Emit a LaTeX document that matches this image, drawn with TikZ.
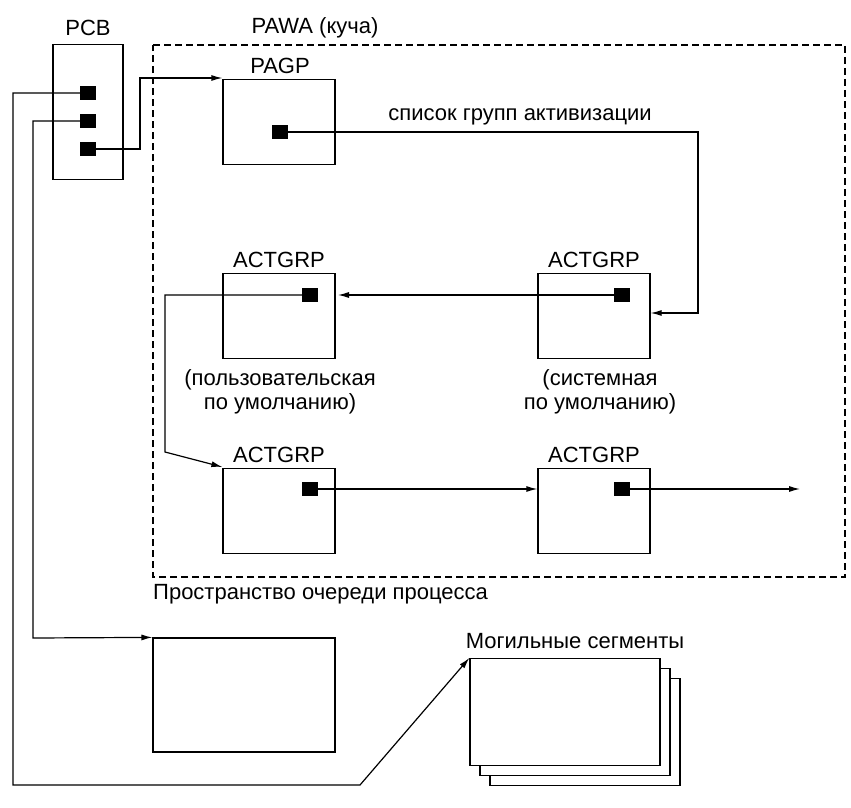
\documentclass[tikz,border=0pt]{standalone}
\usepackage{fontspec}
\setmainfont{Liberation Sans}
\usetikzlibrary{positioning,arrows.meta}
\tikzset{
    box/.style={draw, line width=1.2pt, fill=white, inner sep=0pt},
    ptr/.style={fill=black, minimum width=16pt, minimum height=14pt, inner sep=0pt},
    lnk/.style={line width=1.2pt, -{Latex[length=11pt,width=6pt]}},
    lbl/.style={font=\fontsize{22}{24}\selectfont, align=center, inner sep=0pt}
}
\begin{document}
\begin{tikzpicture}[x=1pt, y=-1pt]
\useasboundingbox (0,0) rectangle (851,808);

% Heap frame
\draw[line width=1.2pt, dash pattern=on 7pt off 4pt]
    (153,45) -- (845,45) -- (845,577) -- (153,577) -- cycle;
\node[lbl] at (315,28) {PAWA (куча)};
\node[lbl, anchor=west] at (153,594) {Пространство очереди процесса};

% PCB
\node[box, minimum width=70pt, minimum height=135pt] (pcb) at (88,112) {};
\node[lbl] at (88,28) {PCB};
\node[ptr] (p1) at (88,93) {};
\node[ptr] (p2) at (88,121) {};
\node[ptr] (p3) at (88,149) {};

% PAGP
\node[box, minimum width=112pt, minimum height=85pt] (pagp) at (279,122) {};
\node[lbl] at (280,66) {PAGP};
\node[ptr] (pg) at (280,132) {};
\node[lbl] at (520,117) {список групп активизации};

% Activation groups
\node[box, minimum width=112pt, minimum height=85pt] (ga) at (279,316) {};
\node[box, minimum width=112pt, minimum height=85pt] (gb) at (594,316) {};
\node[box, minimum width=112pt, minimum height=85pt] (gc) at (279,511) {};
\node[box, minimum width=112pt, minimum height=85pt] (gd) at (594,511) {};
\foreach \g in {ga,gb,gc,gd}
    \node[lbl] at ([yshift=13pt]\g.north) {ACTGRP};
\node[ptr] (sa) at (310,295) {};
\node[ptr] (sb) at (622,295) {};
\node[ptr] (sc) at (310,489) {};
\node[ptr] (sd) at (622,489) {};
\node[lbl] at (280,392) {(пользовательская\\по умолчанию)};
\node[lbl] at (600,392) {(системная\\по умолчанию)};

% Process space and tomb segments
\node[box, minimum width=182pt, minimum height=114pt] (ps) at (244,695) {};
\node[box, minimum width=190pt, minimum height=107pt] (t3) at (585,732) {};
\node[box, minimum width=190pt, minimum height=107pt] (t2) at (575,722) {};
\node[box, minimum width=190pt, minimum height=107pt] (t1) at (565,712) {};
\node[lbl] at (575,641) {Могильные сегменты};
\coordinate (end) at (800,489);

% Links
\draw[lnk] (p3.center) -- (140,149) -- (140,78) -- (pagp.north west |- 0,78);
\draw[lnk] (pg.center) -- (698,132) -- (698,313) -- (gb.east |- 0,313);
\draw[lnk] (sb.center) -- (338,295);
\draw[lnk] (sa.center) -- (165,295) -- (165,452) -- (ga.west |- 0,467);
\draw[lnk] (sc.center) -- (gd.west |- sc);
\draw[lnk] (sd.center) -- (end);
\draw[lnk] (p2.center) -- (33,121) -- (33,638) -- (ps.north west);
\draw[lnk] (p1.center) -- (13,93) -- (13,785) -- (360,785) -- (t1.north west);
\end{tikzpicture}
\end{document}
